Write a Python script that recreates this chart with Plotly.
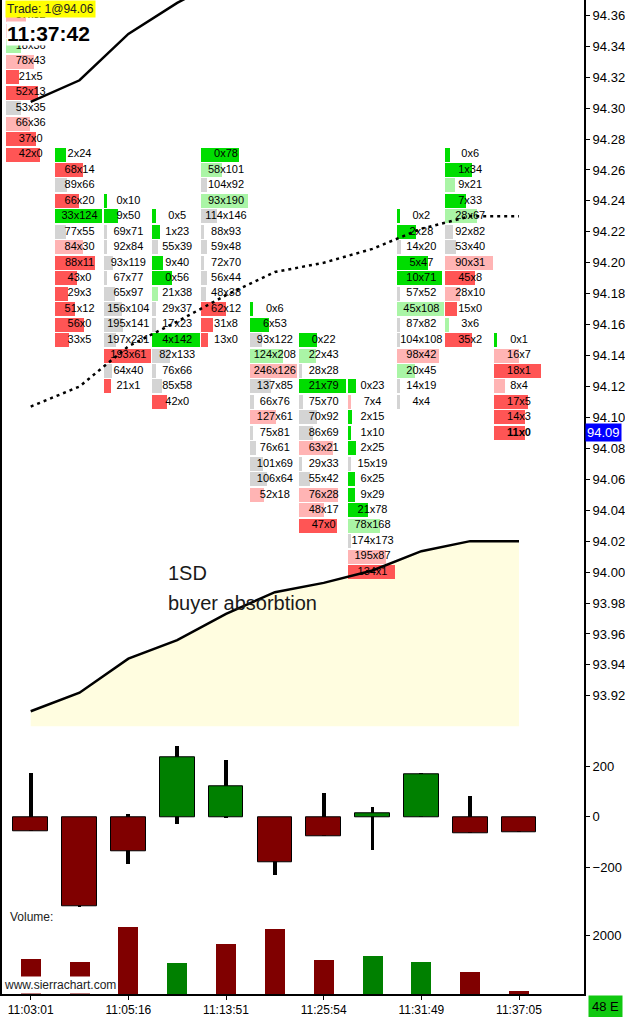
import plotly.graph_objects as go

# time labels under every second column
time_cols = [0, 2, 4, 6, 8, 10]
time_labels = ["11:03:01", "11:05:16", "11:13:51", "11:25:54", "11:31:49", "11:37:05"]

# footprint: highest price of each column, then bid / ask per row going down (0.01 steps)
top_price = [94.36, 94.27, 94.24, 94.23, 94.27, 94.17, 94.15, 94.12, 94.23, 94.27, 94.15]
bid_vol = [
    [57, 88, 18, 78, 21, 52, 53, 66, 37, 42],
    [2, 68, 89, 66, 33, 77, 84, 88, 43, 29, 51, 56, 33],
    [0, 9, 69, 92, 93, 67, 65, 156, 195, 197, 193, 64, 21],
    [0, 1, 55, 9, 0, 21, 29, 17, 4, 82, 76, 85, 42],
    [0, 58, 104, 93, 114, 88, 59, 72, 56, 48, 62, 31, 13],
    [0, 6, 93, 124, 246, 137, 66, 127, 75, 76, 101, 106, 52],
    [0, 22, 28, 21, 75, 70, 86, 63, 29, 55, 76, 48, 47],
    [0, 7, 2, 1, 2, 15, 6, 9, 21, 78, 174, 195, 134],
    [0, 2, 14, 5, 10, 57, 45, 87, 104, 98, 20, 14, 4],
    [0, 1, 9, 7, 28, 92, 53, 90, 45, 28, 15, 3, 35],
    [0, 16, 18, 8, 17, 14, 11],
]
ask_vol = [
    [32, 30, 36, 43, 5, 13, 35, 36, 0, 0],
    [24, 14, 66, 20, 124, 55, 30, 11, 0, 3, 12, 0, 5],
    [10, 50, 71, 84, 119, 77, 97, 104, 141, 231, 61, 40, 1],
    [5, 23, 39, 40, 56, 38, 37, 23, 142, 133, 66, 58, 0],
    [78, 101, 92, 190, 146, 93, 48, 70, 44, 38, 12, 8, 0],
    [6, 53, 122, 208, 126, 85, 76, 61, 81, 61, 69, 64, 18],
    [22, 43, 28, 79, 70, 92, 69, 21, 33, 42, 28, 17, 0],
    [23, 4, 15, 10, 25, 19, 25, 29, 78, 168, 173, 87, 1],
    [2, 28, 20, 47, 71, 52, 108, 82, 108, 42, 45, 19, 4],
    [6, 34, 21, 33, 67, 82, 40, 31, 8, 10, 0, 6, 2],
    [1, 7, 1, 4, 5, 3, 0],
]
last_price = 94.09

# vwap and +/- 1 SD bands, one value per column
vwap = [94.107, 94.120, 94.146, 94.162, 94.179, 94.194, 94.200, 94.209, 94.222, 94.230, 94.230]
upper_sd = [94.304, 94.318, 94.348, 94.368, 94.385, 94.401, 94.407, 94.417, 94.431, 94.440, 94.440]
lower_sd = [93.910, 93.922, 93.944, 93.956, 93.973, 93.987, 93.993, 94.001, 94.0135, 94.020, 94.020]

# bar delta candles
delta_open = [0, 0, 0, 0, 0, 0, 0, 0, 0, 0, 0]
delta_high = [173, 0, 10, 282, 225, 0, 94, 37, 173, 81, 0]
delta_low = [-56, -357, -188, -29, -4, -230, -78, -131, 0, -66, -62]
delta_close = [-56, -353, -135, 236, 121, -179, -78, 13, 168, -66, -62]

volume = [1200, 1083, 2307, 1081, 1718, 2239, 1164, 1301, 1088, 746, 105]
volume_up = [False, False, False, True, False, False, False, True, True, False, False]

cols = list(range(len(top_price)))

GREEN, LGREEN, GRAY, LRED, RED = "#00DD00", "#AAF5A6", "#D4D4D4", "#FFB4B4", "#FF5555"


def cell_color(b, a):
    hi, lo = max(a, b), min(a, b)
    r = hi / lo if lo else 999
    if a == b or r < 1.66:
        return GRAY
    if a > b:
        return GREEN if r > 3 else LGREEN
    return RED if r > 3 else LRED


fp_y, fp_base, fp_w, fp_col, txt_x, txt_y, txt = [], [], [], [], [], [], []
for i in cols:
    deltas = [abs(a - b) for a, b in zip(ask_vol[i], bid_vol[i])]
    dmax = max(deltas)
    for k, (b, a) in enumerate(zip(bid_vol[i], ask_vol[i])):
        p = round(top_price[i] - 0.01 * k, 2)
        fp_y.append(p)
        fp_base.append(i - 0.506)
        fp_w.append(max(abs(a - b) / dmax, 0.065) * 0.965)
        fp_col.append(cell_color(b, a))
        txt_x.append(i)
        txt_y.append(p)
        s = "%dx%d" % (b, a)
        if i == cols[-1] and p == last_price:
            s = "<b>" + s + "</b>"
        txt.append(s)

fig = go.Figure()

# yellow fill under the lower band (base axis so bars stay on top)
fig.add_trace(go.Scatter(x=cols, y=lower_sd, mode="lines", line=dict(width=0),
                         fill="tozeroy", fillcolor="#FFFDE0", hoverinfo="skip",
                         xaxis="x", yaxis="y"))

fig.add_trace(go.Bar(y=fp_y, x=fp_w, base=fp_base, orientation="h", width=0.00905,
                     marker=dict(color=fp_col, line=dict(width=0)), hoverinfo="skip",
                     xaxis="x", yaxis="y4"))
fig.add_trace(go.Scatter(x=txt_x, y=txt_y, text=txt, mode="text", textposition="middle center",
                         textfont=dict(size=11, color="black", family="Liberation Sans"),
                         hoverinfo="skip", xaxis="x", yaxis="y4"))

for band in (upper_sd, lower_sd):
    fig.add_trace(go.Scatter(x=cols, y=band, mode="lines", line=dict(color="black", width=2.5),
                             hoverinfo="skip", xaxis="x", yaxis="y4"))
fig.add_trace(go.Scatter(x=cols, y=vwap, mode="lines",
                         line=dict(color="black", width=2.5, dash="3px,4px"),
                         hoverinfo="skip", xaxis="x", yaxis="y4"))

# delta candles: wicks then bodies
fig.add_trace(go.Bar(x=cols, y=[h - l for h, l in zip(delta_high, delta_low)], base=delta_low,
                     width=0.08, marker=dict(color="black", line=dict(width=0)),
                     hoverinfo="skip", xaxis="x2", yaxis="y2"))
fig.add_trace(go.Bar(x=cols, y=[c - o for c, o in zip(delta_close, delta_open)], base=delta_open,
                     width=0.71,
                     marker=dict(color=["#008000" if c >= o else "#800000"
                                        for c, o in zip(delta_close, delta_open)],
                                 line=dict(color="black", width=1)),
                     hoverinfo="skip", xaxis="x2", yaxis="y2"))

fig.add_trace(go.Bar(x=cols, y=volume, width=0.41,
                     marker=dict(color=["#008000" if u else "#800000" for u in volume_up],
                                 line=dict(width=0)),
                     hoverinfo="skip", xaxis="x3", yaxis="y3"))

xr = [-0.588, 11.331]
main_range = [93.9003, 94.3699]
axis_font = dict(family="Liberation Sans", size=13, color="black")
yax = dict(side="right", showline=True, linecolor="black", linewidth=2, mirror=True,
           ticks="outside", ticklen=4, tickcolor="black", showgrid=False, zeroline=False,
           tickfont=axis_font, fixedrange=True)
xax = dict(range=xr, showgrid=False, zeroline=False, showticklabels=False, showline=False,
           fixedrange=True)

fig.update_layout(
    width=625, height=1017,
    margin=dict(l=0, r=41, t=0, b=22),
    paper_bgcolor="white", plot_bgcolor="white",
    showlegend=False, barmode="overlay", bargap=0,
    font=dict(family="Liberation Sans", color="black"),
    xaxis=dict(xax, anchor="y"),
    xaxis2=dict(xax, anchor="y2"),
    xaxis3=dict(xax, anchor="y3", showticklabels=True, showline=True, linecolor="black",
                linewidth=2, ticks="outside", ticklen=4, tickcolor="black",
                tickvals=time_cols, ticktext=time_labels,
                tickfont=dict(family="Liberation Sans", size=12, color="black")),
    yaxis=dict(yax, domain=[0.26935, 1], range=main_range, anchor="x",
               tick0=94.0, dtick=0.02, tickformat=".2f"),
    yaxis4=dict(range=main_range, overlaying="y", anchor="x", visible=False, fixedrange=True),
    yaxis2=dict(yax, domain=[0.08342, 0.26935], range=[-374, 360], anchor="x2",
                tickvals=[-200, 0, 200]),
    yaxis3=dict(yax, domain=[0, 0.08342], range=[0, 2855], anchor="x3", tickvals=[2000]),
)

fig.add_annotation(text="1SD", x=2.78, y=93.9991, xref="x", yref="y", xanchor="left",
                   yanchor="middle", showarrow=False, font=dict(size=20, color="#1a1a1a"))
fig.add_annotation(text="buyer absorbtion", x=2.78, y=93.9797, xref="x", yref="y",
                   xanchor="left", yanchor="middle", showarrow=False,
                   font=dict(size=20, color="#1a1a1a"))
fig.add_annotation(text="Trade: 1@94.06", x=0.005, y=1, xref="paper", yref="paper",
                   xanchor="left", yanchor="top", showarrow=False, bgcolor="#FFFF00",
                   borderpad=1, font=dict(size=12, color="#222"))
fig.add_annotation(text="<b>11:37:42</b>", x=0.007, y=0.979, xref="paper", yref="paper",
                   xanchor="left", yanchor="top", showarrow=False, bgcolor="white",
                   borderpad=0, font=dict(size=21, color="black"))
fig.add_annotation(text="94.09", x=1.002, y=last_price, xref="paper", yref="y",
                   xanchor="left", yanchor="middle", showarrow=False, bgcolor="#0000FF",
                   borderpad=1, font=dict(size=13, color="white"))
fig.add_annotation(text="Volume:", x=0.01, y=0.0774, xref="paper", yref="paper",
                   xanchor="left", yanchor="middle", showarrow=False,
                   font=dict(size=12, color="#222"))
fig.add_annotation(text="www.sierrachart.com", x=0, y=0, xref="paper", yref="paper",
                   xanchor="left", yanchor="bottom", showarrow=False, bgcolor="white",
                   borderpad=1, font=dict(size=12, color="#222"))
fig.add_annotation(text="48 E", x=1.007, y=-0.0121, xref="paper", yref="paper",
                   xanchor="left", yanchor="middle", showarrow=False, bgcolor="#10C810",
                   borderpad=3, font=dict(size=13, color="black"))

fig.write_html("out.html", config={"displayModeBar": False},
               post_script="document.body.style.margin='0';")
